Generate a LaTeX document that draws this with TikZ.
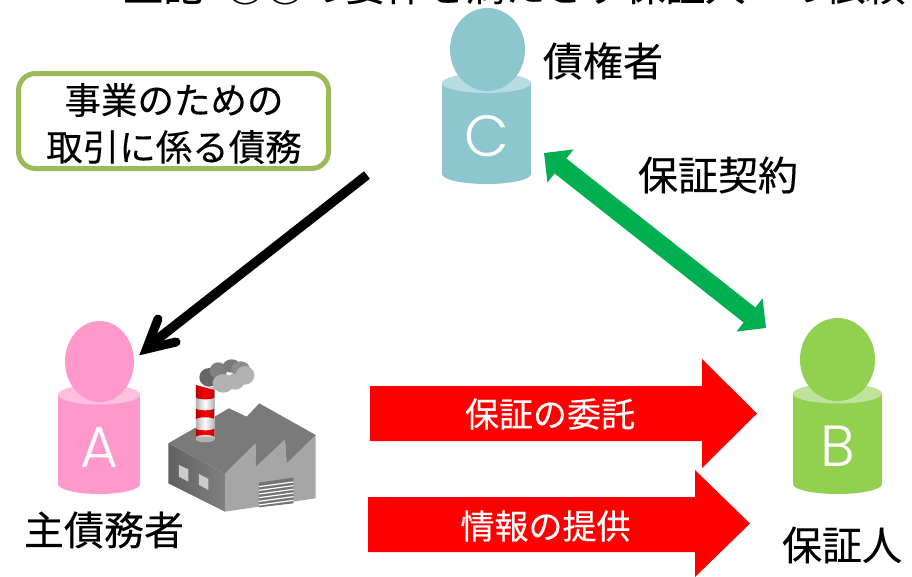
\documentclass[tikz,border=0pt]{standalone}
\usepackage{fontspec}
\setmainfont{Noto Sans CJK JP}[FakeBold=0.25]
\newfontfamily\latinfont{Poppins}[UprightFont=* Light]
\usetikzlibrary{arrows.meta,shapes.geometric}
\definecolor{cA}{HTML}{FF99CC}\definecolor{cAt}{HTML}{FFBFDF}
\definecolor{cB}{HTML}{92D050}\definecolor{cBt}{HTML}{BFE39A}
\definecolor{cC}{HTML}{8CC6CF}\definecolor{cCt}{HTML}{B7DCE1}
\definecolor{boxgreen}{HTML}{9BBB59}
\definecolor{arrgreen}{HTML}{00B050}
\tikzset{
 label36/.style={inner sep=0pt,font=\fontsize{40}{40}\selectfont,text=black},
 boxtext/.style={inner sep=0pt,font=\fontsize{36.5}{36.5}\selectfont,text=black},
 arrowtext/.style={inner sep=0pt,font=\fontsize{34}{34}\selectfont,text=white},
 letter/.style={inner sep=0pt,text=white,font=\fontsize{58}{58}\latinfont},
 head/.style={ellipse,fill=#1,draw=none,inner sep=0pt},
}
% args: colour, top colour, x-left, x-right, y-top-centre, y-bottom-side, ry
\newcommand\personbody[7]{
  \fill[#1] (#3,#5) rectangle (#4,#6);
  \fill[#1] ({(#3+#4)/2},#6) ellipse [x radius={(#4-#3)/2},y radius=#7];
  \fill[#2] ({(#3+#4)/2},#5) ellipse [x radius={(#4-#3)/2},y radius=#7];
}
\begin{document}
\begin{tikzpicture}[x=1pt,y=-1pt]
\useasboundingbox (0,0) rectangle (912,576);
\fill[white] (0,0) rectangle (912,576);
% clipped heading
\node[anchor=base west,inner sep=0pt,font=\fontsize{40}{40}\selectfont] (titleA) at (123,1) {上記};
\node[anchor=base west,inner sep=0pt,font=\fontsize{40}{40}\selectfont] (titleB) at (225,1) {①②の要件を満たさず保証人への依頼};
% persons
\personbody{cC}{cCt}{442}{531}{83}{174}{10}
\node[head=cC,minimum width=75pt,minimum height=83pt] (headC) at (487.5,49.5) {};
\node[letter] (C) at (487,136) {C};
\personbody{cA}{cAt}{58}{140}{394.5}{484}{10}
\node[head=cA,minimum width=69pt,minimum height=81pt] (headA) at (99.5,361.5) {};
\node[letter] (A) at (99,447) {A};
\personbody{cB}{cBt}{793}{882}{393.5}{484}{10}
\node[head=cB,minimum width=75pt,minimum height=83pt] (headB) at (837.5,359.5) {};
\node[letter] (B) at (838,446) {B};
% labels
\node[label36] (lc) at (603,61) {債権者};
\node[label36] (lk) at (718,175) {保証契約};
\node[label36] (la) at (104,530) {主債務者};
\node[label36] (lb) at (842,545) {保証人};
% box
\node[draw=boxgreen,line width=5pt,rounded corners=17pt,fill=white,minimum width=310pt,minimum height=95pt,inner sep=0pt] (box) at (173.5,121) {};
\node[boxtext] (b1) at (174,100) {事業のための};
\node[boxtext] (b2) at (174,147) {取引に係る債務};
% connector end points
\coordinate (g1) at (544,153);
\coordinate (g2) at (766,328);
\coordinate (k1) at (367,175);
\coordinate (k2) at (150,345);
\coordinate (ka) at (158,319);
\coordinate (kb) at (176,342);
\coordinate (kt) at (146.5,349);
\draw[arrgreen,line width=19pt,{Triangle[length=21pt,width=41pt]}-{Triangle[length=21pt,width=41pt]}] (g1) -- (g2);
\draw[black,line width=9.5pt] (k1) -- (k2);
\draw[black,line width=9pt,line cap=round,line join=miter,miter limit=10] (ka) -- (kt) -- (kb);
% red arrows
\fill[red] (370,386) -- (702,386) -- (702,359) -- (757,413.5) -- (702,468) -- (702,441) -- (370,441) -- cycle;
\fill[red] (368,497) -- (695,497) -- (695,470) -- (750,523.5) -- (695,577) -- (695,552) -- (368,552) -- cycle;
\node[arrowtext] (r1) at (550,414) {保証の委託};
\node[arrowtext] (r2) at (545.5,526) {情報の提供};
% factory
\begin{scope}[shift={(150,340)},x=0.3333pt,y=-0.3333pt]
  \shade[left color=black!62,right color=black!50] (55,310) -- (225,400) -- (225,515) -- (55,430) -- cycle;
  \fill[black!35] (225,400) -- (316,310) -- (318,380) -- (405,298) -- (410,370) -- (497,285) -- (497,475) -- (225,515) -- cycle;
  \fill[black!52] (55,310) -- (237,205) -- (290,230) -- (328,190) -- (497,285) -- (410,370) -- (405,298) -- (318,380) -- (316,310) -- (225,400) -- cycle;
  \fill[black!20] (87,375) -- (115,388) -- (115,425) -- (87,410) -- cycle;
  \fill[black!20] (147,402) -- (175,417) -- (175,450) -- (147,435) -- cycle;
  \fill[black!55] (327,428) -- (430,413) -- (430,490) -- (327,502) -- cycle;
  \foreach \i in {0,1,2,3,4,5}{
    \draw[white,line width=1.2pt] (327,{440+\i*11}) -- (430,{426+\i*11});
  }
  % chimney
  \shade[left color=black!30,right color=black!30,middle color=white] (138,143) rectangle (193,298);
  \fill[black!30] (165.5,298) ellipse [x radius=27.5,y radius=9];
  \shade[left color=red!75!black,right color=red!75!black,middle color=red] (138,135) -- (138,172) arc[start angle=180,end angle=360,x radius=27.5,y radius=-6] -- (193,150) -- cycle;
  \shade[left color=red!75!black,right color=red!75!black,middle color=red] (138,205) arc[start angle=180,end angle=360,x radius=27.5,y radius=-6] -- (193,238) arc[start angle=360,end angle=180,x radius=27.5,y radius=6] -- cycle;
  \shade[left color=red!75!black,right color=red!75!black,middle color=red] (138,265) arc[start angle=180,end angle=360,x radius=27.5,y radius=-6] -- (193,291) arc[start angle=360,end angle=180,x radius=27.5,y radius=6] -- cycle;
  % smoke
  \fill[black!60] (178,112) ellipse [x radius=30,y radius=28];
  \fill[black!50] (205,92) ellipse [x radius=26,y radius=25];
  \fill[black!52] (245,78) ellipse [x radius=26,y radius=20];
  \fill[black!45] (272,88) ellipse [x radius=28,y radius=24];
  \fill[black!30] (220,130) ellipse [x radius=32,y radius=28];
  \fill[black!30] (255,125) ellipse [x radius=28,y radius=24];
  \fill[black!30] (285,106) ellipse [x radius=28,y radius=28];
\end{scope}
\end{tikzpicture}
\end{document}
